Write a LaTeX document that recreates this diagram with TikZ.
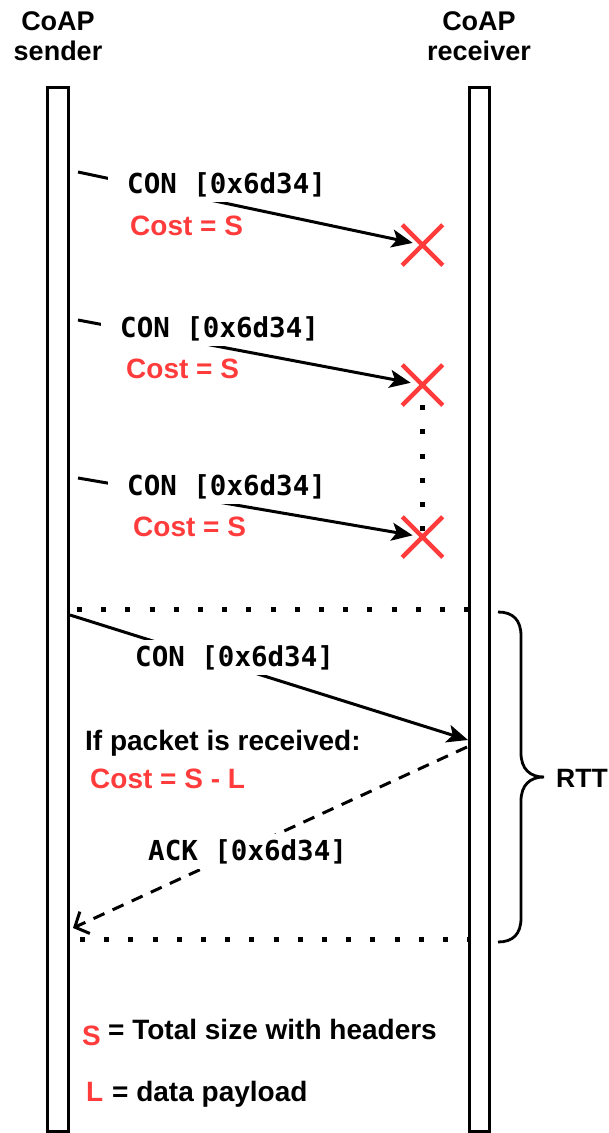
\documentclass[tikz,border=0pt]{standalone}
\usepackage{fontspec}
\setmainfont{Liberation Sans}
\newfontfamily\codefont{DejaVu Sans Mono}
\usetikzlibrary{arrows.meta,shapes.misc}
\definecolor{lossred}{RGB}{255,59,59}

\tikzset{
  lifeline/.style={draw=black, line width=3pt},
  msg/.style={draw=black, line width=3pt, -{Stealth[length=21pt,width=18pt,inset=5pt]}},
  reply/.style={draw=black, line width=3pt, dash pattern=on 12pt off 9pt,
    -{Straight Barb[length=11pt,width=24pt]}},
  lost/.style={cross out, draw=lossred, line width=4.5pt, minimum size=36pt, inner sep=0pt},
  dots/.style={draw=black, line width=5pt, dash pattern=on 5pt off 19.2pt},
  code/.style={font=\codefont\bfseries\fontsize{27.5}{33}\selectfont, fill=white,
    inner xsep=19pt, inner ysep=5pt, anchor=base west},
  txt/.style={font=\bfseries\fontsize{28}{34}\selectfont, inner sep=0pt, anchor=base west},
  cost/.style={txt, text=lossred},
  hdr/.style={font=\bfseries\fontsize{27}{30}\selectfont, align=center, inner sep=0pt, anchor=north},
}

\begin{document}
\begin{tikzpicture}[x=1pt, y=-1pt]
  \useasboundingbox (0,0) rectangle (609,1133);

  % participants
  \node[hdr] (sender) at (58,11) {CoAP\\sender};
  \node[hdr] (receiver) at (479,11) {CoAP\\receiver};
  \draw[lifeline] (47,87) rectangle (68,1131);
  \draw[lifeline] (469,87) rectangle (489,1131);

  % lost transmissions
  \coordinate (s1) at (78,172);
  \coordinate (s2) at (78,320);
  \coordinate (s3) at (78,478);
  \node[lost] (x1) at (422.5,245) {};
  \node[lost] (x2) at (422.5,385) {};
  \node[lost] (x3) at (422.5,537) {};
  \draw[dots] (x2.south) -- (x3.center);

  \draw[msg, shorten >=10pt] (s1) -- (x1.center);
  \node[code] (c1) at (108,193) {CON [0x6d34]};
  \node[cost] (k1) at (130,235) {Cost = S};

  \draw[msg, shorten >=12pt] (s2) -- (x2.center);
  \node[code] (c2) at (101,337) {CON [0x6d34]};
  \node[cost] (k2) at (126,378) {Cost = S};

  \draw[msg, shorten >=10pt] (s3) -- (x3.center);
  \node[code] (c3) at (108,495) {CON [0x6d34]};
  \node[cost] (k3) at (133,536) {Cost = S};

  % successful exchange
  \coordinate (t1) at (77,609);
  \coordinate (t2) at (470,609);
  \coordinate (b1) at (80,939);
  \coordinate (b2) at (470,939);
  \draw[dots] (t1) -- (t2);
  \draw[dots] (b1) -- (b2);

  \coordinate (s4) at (70,615);
  \coordinate (r4) at (468,740);
  \coordinate (r5) at (467,747);
  \coordinate (e5) at (73,928);
  \draw[msg] (s4) -- (r4);
  \node[code] (c4) at (116,666) {CON [0x6d34]};
  \node[txt] (rcv) at (85,750) {If packet is received:};
  \node[cost] (k4) at (90,788) {Cost = S - L};

  \draw[reply] (r5) -- (e5);
  \node[code] (ack) at (129,860) {ACK [0x6d34]};

  % round-trip time brace
  \draw[line width=2.8pt] (498,612) .. controls (513,612) and (521,620) .. (521,636)
    -- (521,753) .. controls (521,769) and (530,777) .. (544,777)
    .. controls (530,777) and (521,785) .. (521,801)
    -- (521,918) .. controls (521,934) and (513,942) .. (498,942);
  \node[txt, font=\bfseries\fontsize{26.5}{30}\selectfont] (rtt) at (556,787) {RTT};

  % legend
  \node[cost] (ls) at (82,1045) {S};
  \node[txt] (lsd) at (108,1039) {= Total size with headers};
  \node[cost] (ll) at (86,1101) {L};
  \node[txt] (lld) at (112,1101) {= data payload};
\end{tikzpicture}
\end{document}
